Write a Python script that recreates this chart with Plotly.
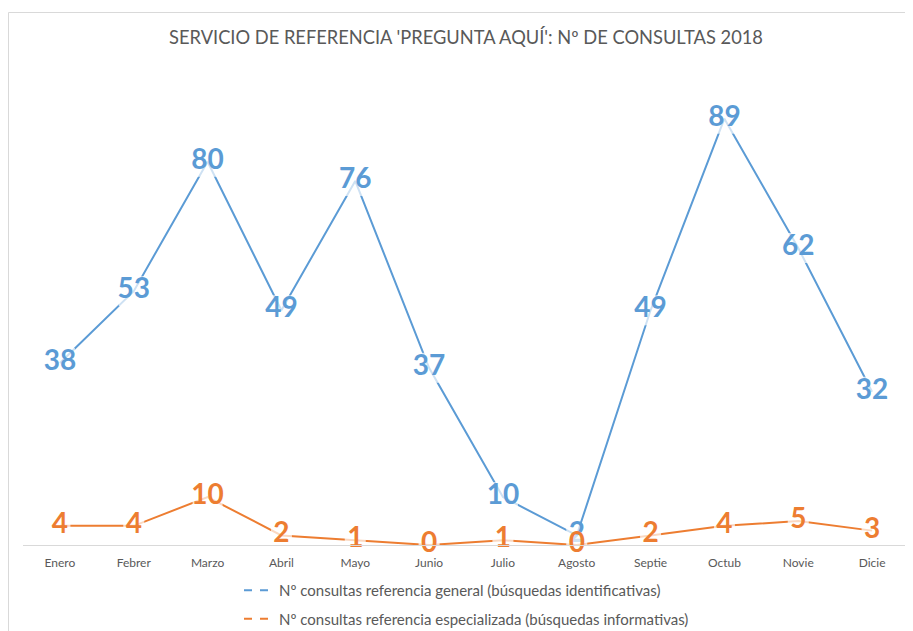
import plotly.graph_objects as go

months = ["Enero", "Febrer", "Marzo", "Abril", "Mayo", "Junio", "Julio",
          "Agosto", "Septie", "Octub", "Novie", "Dicie"]
general = [38, 53, 80, 49, 76, 37, 10, 2, 49, 89, 62, 32]
especializada = [4, 4, 10, 2, 1, 0, 1, 0, 2, 4, 5, 3]

name_general = "Nº consultas referencia general (búsquedas identificativas)"
name_esp = "Nº consultas referencia especializada (búsquedas informativas)"

BLUE = "#5B9BD5"
ORANGE = "#ED7D31"
GREY = "#595959"
FONT = "Lato, 'Open Sans', sans-serif"

fig = go.Figure()

series = [(general, BLUE, name_general, "g1"), (especializada, ORANGE, name_esp, "g2")]

for vals, color, name, grp in series:
    labels = ["<b>%d</b>" % v for v in vals]
    sizes = [12 + 9 * len(str(v)) for v in vals]
    fig.add_trace(go.Scatter(
        x=months, y=vals, mode="lines+markers+text", text=labels,
        textposition="middle center",
        textfont=dict(family=FONT, size=28, color=color),
        marker=dict(symbol="square", size=sizes, color="white", line=dict(width=0)),
        line=dict(color=color, width=2),
        showlegend=False, cliponaxis=False, hoverinfo="skip"))

# legend entries with dashed symbols
for vals, color, name, grp in series:
    fig.add_trace(go.Scatter(
        x=[None], y=[None], mode="lines", name=name, legendgroup=grp,
        line=dict(color=color, width=2, dash="8px,8px"), showlegend=True))

# page body has an 8px margin: figure drawn at (8, 8)
W, H = 905, 623
L, R, T, B = 15, 4, 58, 86
pw = W - L - R
ph = H - T - B
bottom = H - B

fig.update_layout(
    width=W, height=H,
    margin=dict(l=L, r=R, t=T, b=B, autoexpand=False),
    paper_bgcolor="white", plot_bgcolor="white",
    title=dict(text="SERVICIO DE REFERENCIA 'PREGUNTA AQUÍ': Nº DE CONSULTAS 2018",
               font=dict(family=FONT, size=18.3, color=GREY),
               x=0.5, xref="paper", xanchor="center",
               y=1 - 30 / H, yref="container", yanchor="middle"),
    xaxis=dict(type="category", categoryorder="array", categoryarray=months,
               range=[-0.5, 11.5], showgrid=False, zeroline=False,
               showline=True, linecolor="#D9D9D9", linewidth=1,
               ticks="", ticklabelstandoff=7,
               tickfont=dict(family=FONT, size=12, color=GREY), fixedrange=True),
    yaxis=dict(range=[0, 100], visible=False, fixedrange=True),
    legend=dict(orientation="v", x=(231 - L) / pw, xanchor="left",
                y=-(566 - bottom) / ph, yanchor="top",
                font=dict(family=FONT, size=15, color=GREY),
                tracegroupgap=6, bgcolor="rgba(0,0,0,0)"),
    shapes=[dict(type="rect", xref="paper", yref="paper",
                 x0=(0.5 - L) / pw, x1=(W + 10 - L) / pw,
                 y0=-(H + 10 - bottom) / ph, y1=(bottom - 4.5) / ph,
                 line=dict(color="#D9D9D9", width=1), fillcolor="rgba(0,0,0,0)",
                 layer="below")],
)

fig.write_html("out.html")
